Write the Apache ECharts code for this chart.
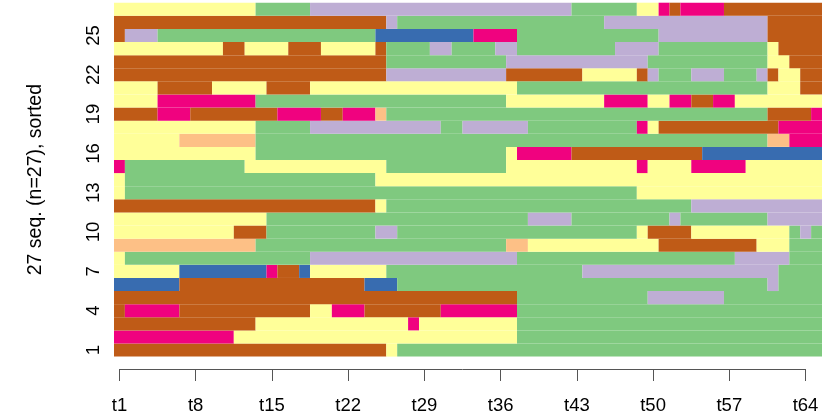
<!DOCTYPE html>
<html>
<head>
<meta charset="utf-8">
<script src="https://cdn.jsdelivr.net/npm/echarts@6/dist/echarts.min.js"></script>
<style>
html,body{margin:0;padding:0;background:#fff;}
#chart{width:822px;height:415px;}
</style>
</head>
<body>
<div id="chart"></div>
<script>
// States (RColorBrewer "Accent" palette)
const stateCodes = ["G", "L", "O", "Y", "B", "P", "R"];
const stateColors = ["#7FC97F", "#BEAED4", "#FDC086", "#FFFF99", "#386CB0", "#F0027F", "#BF5B17"];

// Time points (columns) and axis tick labels
const timePoints = Array.from({length: 65}, (_, i) => "t" + (i + 1));
const axisTimes = timePoints.slice(0, 64);

// Sequence index labels (rows, bottom to top)
const seqIds = Array.from({length: 27}, (_, i) => String(i + 1));

// Sequences as runs [state, length], row 1 (bottom) .. row 27 (top)
const sequences = [
  /* 1 */ [["R",25],["Y",1],["G",39]],
  /* 2 */ [["P",11],["Y",26],["G",28]],
  /* 3 */ [["R",13],["Y",14],["P",1],["Y",9],["G",28]],
  /* 4 */ [["R",1],["P",5],["R",12],["Y",2],["P",3],["R",7],["P",7],["G",28]],
  /* 5 */ [["R",37],["G",12],["L",7],["G",9]],
  /* 6 */ [["B",6],["R",17],["B",3],["G",34],["L",1],["G",4]],
  /* 7 */ [["Y",6],["B",8],["P",1],["R",2],["B",1],["Y",7],["G",18],["L",18],["G",4]],
  /* 8 */ [["Y",1],["G",17],["L",19],["G",20],["L",5],["G",3]],
  /* 9 */ [["O",13],["G",23],["O",2],["Y",12],["R",9],["Y",3],["G",3]],
  /*10 */ [["Y",11],["R",3],["G",10],["L",2],["G",22],["Y",1],["R",4],["Y",9],["G",1],["L",1],["G",1]],
  /*11 */ [["Y",14],["G",24],["L",4],["G",9],["L",1],["G",8],["L",5]],
  /*12 */ [["R",24],["Y",1],["G",28],["L",12]],
  /*13 */ [["Y",1],["G",47],["Y",17]],
  /*14 */ [["Y",1],["G",23],["Y",41]],
  /*15 */ [["P",1],["G",11],["Y",13],["G",11],["Y",12],["P",1],["Y",4],["P",5],["Y",7]],
  /*16 */ [["Y",13],["G",23],["Y",1],["P",5],["R",12],["B",11]],
  /*17 */ [["Y",6],["O",7],["G",47],["O",2],["P",3]],
  /*18 */ [["Y",13],["G",5],["L",12],["G",2],["L",6],["G",10],["P",1],["Y",1],["R",11],["P",4]],
  /*19 */ [["R",4],["P",3],["R",8],["P",4],["R",2],["P",3],["O",1],["G",35],["R",4],["P",1]],
  /*20 */ [["Y",4],["P",9],["G",23],["Y",9],["P",4],["Y",2],["P",2],["R",2],["P",2],["Y",8]],
  /*21 */ [["Y",4],["R",5],["Y",5],["R",4],["Y",19],["G",23],["Y",3],["R",2]],
  /*22 */ [["R",25],["L",11],["R",7],["Y",5],["R",1],["L",1],["G",3],["L",3],["G",3],["L",1],["R",1],["Y",2],["R",2]],
  /*23 */ [["R",25],["G",11],["L",13],["G",11],["Y",2],["R",3]],
  /*24 */ [["Y",10],["R",2],["Y",4],["R",3],["Y",5],["R",1],["G",4],["L",2],["G",4],["L",2],["G",9],["L",4],["G",10],["Y",1],["R",4]],
  /*25 */ [["R",1],["L",3],["G",20],["B",9],["P",4],["G",13],["L",10],["R",5]],
  /*26 */ [["R",25],["L",1],["G",19],["L",15],["R",5]],
  /*27 */ [["Y",13],["G",5],["L",24],["G",6],["Y",2],["P",1],["R",1],["P",4],["R",9]]
];

// Build run items: [startCol, endCol, row, stateIndex]
const runData = [];
sequences.forEach((runs, row) => {
  let c = 0;
  runs.forEach(([st, len]) => {
    runData.push([c, c + len - 1, row, stateCodes.indexOf(st)]);
    c += len;
  });
});

const FONT = "'Liberation Sans', Arial, Helvetica, sans-serif";

const chart = echarts.init(document.getElementById('chart'), null, {renderer: 'canvas'});
chart.setOption({
  animation: false,
  backgroundColor: '#ffffff',
  grid: [
    {left: 114, right: 0, top: 2.7, bottom: 58.4},
    {left: 119.45, width: 686.1, top: 360, bottom: 43.3}
  ],
  xAxis: [
    {type: 'category', gridIndex: 0, data: timePoints, show: false},
    {
      type: 'category', gridIndex: 1, data: axisTimes, boundaryGap: false, position: 'bottom',
      axisLine: {show: true, lineStyle: {color: '#555', width: 1}},
      axisTick: {show: true, interval: 6, length: 12, lineStyle: {color: '#555', width: 1}},
      axisLabel: {interval: 6, fontSize: 18.5, color: '#000', fontFamily: FONT, margin: 27},
      splitLine: {show: false}
    }
  ],
  yAxis: [
    {
      type: 'category', gridIndex: 0, data: seqIds,
      axisLine: {show: false}, axisTick: {show: false}, splitLine: {show: false},
      axisLabel: {interval: 2, rotate: 90, fontSize: 18.5, color: '#000', fontFamily: FONT, margin: 11},
      name: '27 seq. (n=27), sorted', nameLocation: 'middle', nameRotate: 90, nameGap: 68,
      nameTextStyle: {fontSize: 19.5, color: '#000', fontFamily: FONT}
    },
    {type: 'value', gridIndex: 1, show: false}
  ],
  series: [{
    type: 'custom',
    xAxisIndex: 0, yAxisIndex: 0,
    encode: {x: [0, 1], y: 2},
    data: runData,
    renderItem: function (params, api) {
      const s = api.value(0), e = api.value(1), r = api.value(2), k = api.value(3);
      const p = api.coord([s, r]);
      const sz = api.size([1, 1]);
      const w = sz[0], h = sz[1];
      return {
        type: 'rect',
        shape: {x: p[0] - w / 2, y: p[1] - h / 2, width: w * (e - s + 1), height: h},
        style: {fill: stateColors[k], stroke: null}
      };
    }
  }]
});
</script>
</body>
</html>
